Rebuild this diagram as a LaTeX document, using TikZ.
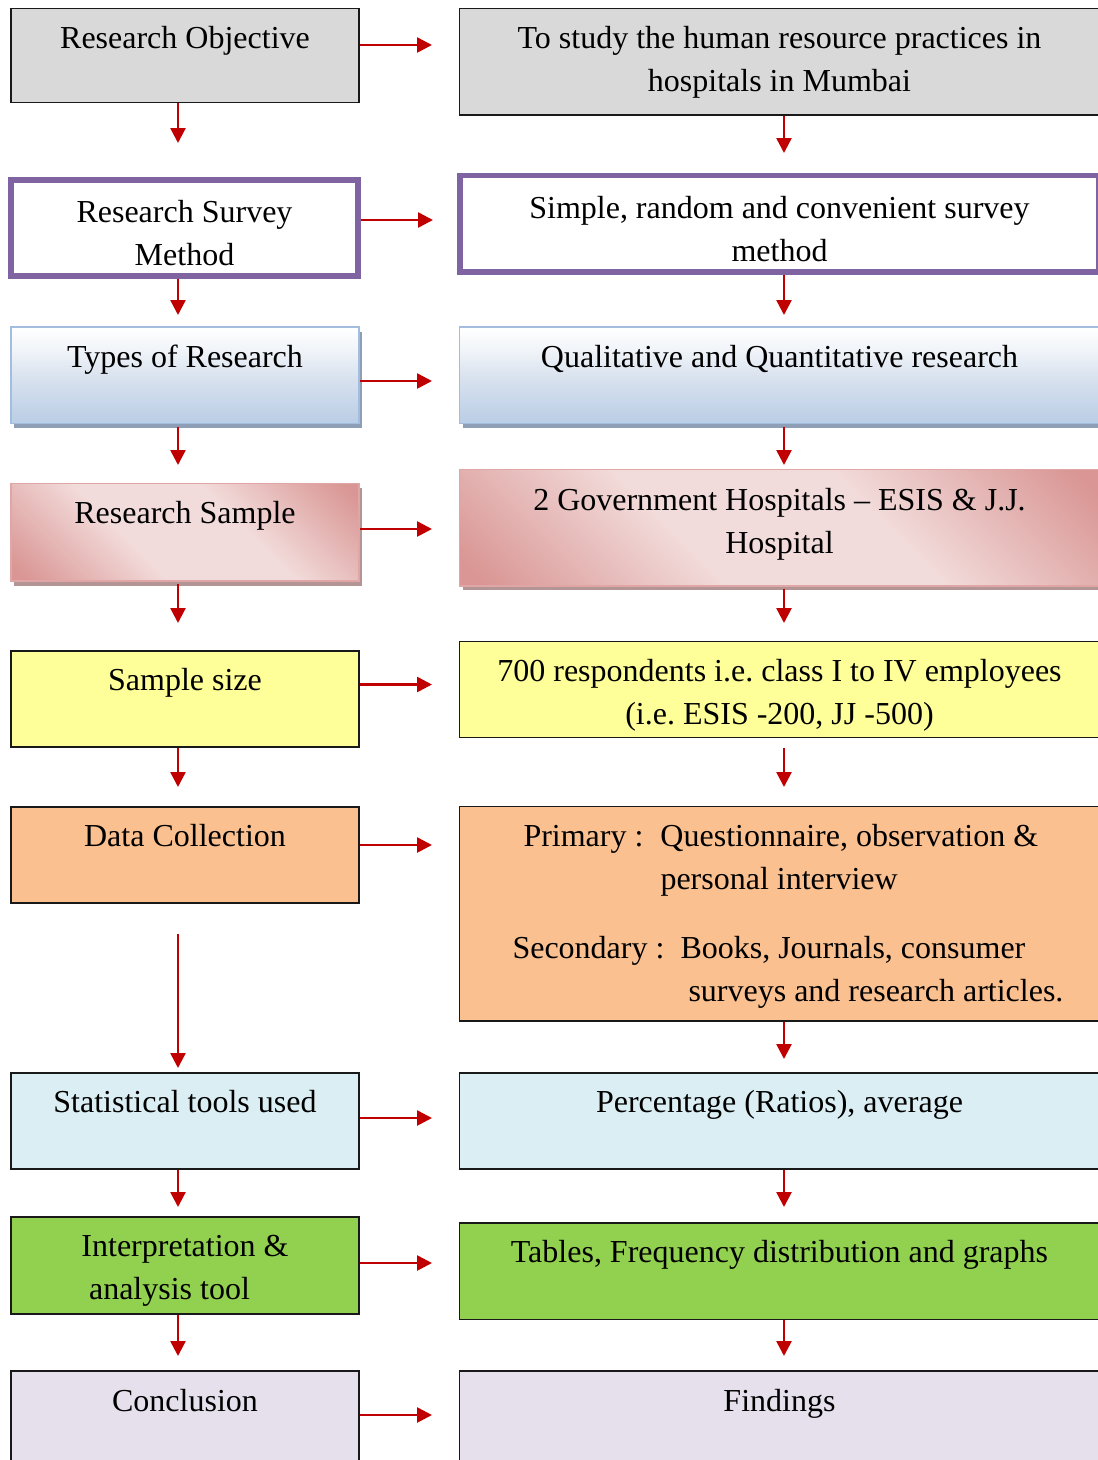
\documentclass[tikz,border=0pt]{standalone}
\usepackage{fontspec}
\setmainfont{Liberation Serif}
\usetikzlibrary{arrows.meta,shadows}

\definecolor{cGray}{HTML}{D9D9D9}
\definecolor{cPurple}{HTML}{8064A2}
\definecolor{cBlueLine}{HTML}{A3BDDF}
\definecolor{cBlueDark}{HTML}{B9CDE5}
\definecolor{cBlueMid}{HTML}{DAE3EF}
\definecolor{cBlueLight}{HTML}{EFF3F8}
\definecolor{cBlueShadow}{HTML}{8E9EB6}
\definecolor{cPinkDark}{HTML}{D99694}
\definecolor{cPinkLight}{HTML}{F2DCDB}
\definecolor{cPinkLine}{HTML}{E0A6A5}
\definecolor{cPinkShadow}{HTML}{B39595}
\definecolor{cYellow}{HTML}{FFFF99}
\definecolor{cOrange}{HTML}{FAC090}
\definecolor{cSky}{HTML}{DAEEF3}
\definecolor{cGreen}{HTML}{92D050}
\definecolor{cLavender}{HTML}{E5E0EC}
\definecolor{cArrow}{HTML}{C00000}

% vertical fade: white at the top, light blue at the bottom
\pgfdeclareverticalshading{bluefade}{100bp}{color(0bp)=(cBlueDark); color(25bp)=(cBlueDark);
  color(50bp)=(cBlueMid); color(62bp)=(cBlueLight); color(75bp)=(white); color(100bp)=(white)}
% diagonal band: dark corners, light stripe through the middle
\pgfdeclarehorizontalshading{pinkband}{100bp}{color(0bp)=(cPinkDark); color(17bp)=(cPinkDark);
  color(40bp)=(cPinkLight); color(60bp)=(cPinkLight); color(83bp)=(cPinkDark); color(100bp)=(cPinkDark)}

% box text: width, height, top padding, lines
\newcommand\boxtxt[4]{\parbox[c][#2][t]{#1}{\fontsize{32}{43}\selectfont\frenchspacing\vspace*{#3}\centering\strut#4\par}}
\newcommand\boxleft[4]{\parbox[c][#2][t]{#1}{\fontsize{32}{43}\selectfont\frenchspacing\vspace*{#3}\raggedright\strut#4\par}}

\tikzset{
  box/.style={inner sep=0pt, outer sep=0pt, draw=black!90, line width=1.8pt},
  graybox/.style={box, fill=cGray},
  purplebox/.style={box, draw=cPurple, line width=5.5pt, fill=white},
  bluebox/.style={box, draw=cBlueLine, line width=1.6pt, shade, shading=bluefade,
    drop shadow={shadow xshift=3pt, shadow yshift=-4.5pt, fill=cBlueShadow, opacity=1}},
  pinkbox/.style={box, draw=cPinkLine, line width=1.6pt, shade, shading=pinkband, shading angle=45,
    drop shadow={shadow xshift=3pt, shadow yshift=-4.5pt, fill=cPinkShadow, opacity=1}},
  yellowbox/.style={box, fill=cYellow},
  orangebox/.style={box, fill=cOrange},
  skybox/.style={box, fill=cSky},
  greenbox/.style={box, fill=cGreen},
  lavbox/.style={box, fill=cLavender},
  arr/.style={draw=cArrow, line width=2.6pt, -{Triangle[length=15pt,width=15pt]}, shorten <=0.9pt},
}

\begin{document}
\begin{tikzpicture}[x=1pt, y=-1pt]
\useasboundingbox (0,0) rectangle (1098,1460);
\clip (0,0) rectangle (1098,1460);

% left column
\node[graybox]   (L1) at (185,55.5)   {\boxtxt{348pt}{94pt}{10pt}{Research Objective}};
\node[purplebox] (L2) at (184.5,228)  {\boxtxt{347pt}{96pt}{12.5pt}{Research Survey\\Method}};
\node[bluebox]   (L3) at (185,375.25) {\boxtxt{348pt}{96.5pt}{10pt}{Types of Research}};
\node[pinkbox]   (L4) at (185,532.25) {\boxtxt{348pt}{97.5pt}{10pt}{Research Sample}};
\node[yellowbox] (L5) at (185,699)    {\boxtxt{348pt}{96.6pt}{9.5pt}{Sample size}};
\node[orangebox] (L6) at (185,855)    {\boxtxt{348pt}{96.6pt}{9.5pt}{Data Collection}};
\node[skybox]    (L7) at (185,1121)   {\boxtxt{348pt}{96pt}{9.5pt}{Statistical tools used}};
\node[greenbox]  (L8) at (185,1265.8) {\boxtxt{348pt}{97pt}{9.5pt}{Interpretation \&\\\hspace*{-31pt}analysis tool}};
\node[lavbox]    (L9) at (185,1419.5) {\boxtxt{348pt}{97pt}{10pt}{Conclusion}};

% right column
\node[graybox]   (R1) at (779.5,61.75)  {\boxtxt{640pt}{106.5pt}{10pt}{To study the human resource practices in\\hospitals in Mumbai}};
\node[purplebox] (R2) at (779.5,223.75) {\boxtxt{639pt}{96.5pt}{12.5pt}{Simple, random and convenient survey\\method}};
\node[bluebox]   (R3) at (779.5,375.25) {\boxtxt{640pt}{96.5pt}{10pt}{Qualitative and Quantitative research}};
\node[pinkbox]   (R4) at (779.5,527.5)  {\boxtxt{640pt}{116.4pt}{11pt}{2 Government Hospitals – ESIS \& J.J.\\Hospital}};
\node[yellowbox] (R5) at (779.5,689.5)  {\boxtxt{640pt}{96pt}{10pt}{700 respondents i.e. class I to IV employees\\(i.e. ESIS -200, JJ -500)}};
\node[orangebox] (R6) at (779.5,913.6)  {\boxleft{640pt}{214.2pt}{10pt}{%
  \hspace*{64pt}\makebox[137pt][l]{Primary :}Questionnaire, observation \&\\
  \hspace*{201pt}personal interview\\[26pt]
  \hspace*{53pt}\makebox[168pt][l]{Secondary :}Books, Journals, consumer\\
  \hspace*{229pt}surveys and research articles.}};
\node[skybox]    (R7) at (779.5,1121)   {\boxtxt{640pt}{96pt}{9.5pt}{Percentage (Ratios), average}};
\node[greenbox]  (R8) at (779.5,1271.1) {\boxtxt{640pt}{96.8pt}{10pt}{Tables, Frequency distribution and graphs}};
\node[lavbox]    (R9) at (779.5,1419.5) {\boxtxt{640pt}{97pt}{10pt}{Findings}};

% arrow tips towards the right column
\coordinate (h1) at (432,45);
\coordinate (h2) at (433,220);
\coordinate (h3) at (432,381);
\coordinate (h4) at (432,529);
\coordinate (h5) at (432,684.5);
\coordinate (h6) at (432,845);
\coordinate (h7) at (432,1118);
\coordinate (h8) at (432,1263);
\coordinate (h9) at (432,1415);
\draw[arr] (L1.east |- h1) -- (h1);
\draw[arr, shorten <=2.8pt] (L2.east |- h2) -- (h2);
\draw[arr] (L3.east |- h3) -- (h3);
\draw[arr] (L4.east |- h4) -- (h4);
\draw[arr] (L5.east |- h5) -- (h5);
\draw[arr] (L6.east |- h6) -- (h6);
\draw[arr] (L7.east |- h7) -- (h7);
\draw[arr] (L8.east |- h8) -- (h8);
\draw[arr] (L9.east |- h9) -- (h9);

% downward arrows, left column
\coordinate (v1) at (178,143);
\coordinate (v2) at (178,315);
\coordinate (v3) at (178,465);
\coordinate (v4) at (178,623);
\coordinate (v5) at (178,787);
\coordinate (v6s) at (178,933);
\coordinate (v6) at (178,1068);
\coordinate (v7) at (178,1207);
\coordinate (v8) at (178,1356);
\draw[arr] (L1.south -| v1) -- (v1);
\draw[arr, shorten <=2.8pt] (L2.south -| v2) -- (v2);
\draw[arr, shorten <=3pt] (L3.south -| v3) -- (v3);
\draw[arr, shorten <=3pt] (L4.south -| v4) -- (v4);
\draw[arr] (L5.south -| v5) -- (v5);
\draw[arr] (v6s) -- (v6);
\draw[arr] (L7.south -| v7) -- (v7);
\draw[arr] (L8.south -| v8) -- (v8);

% downward arrows, right column
\coordinate (w1) at (784,153);
\coordinate (w2) at (784,315);
\coordinate (w3) at (784,465);
\coordinate (w4) at (784,623);
\coordinate (w5s) at (784,747);
\coordinate (w5) at (784,787);
\coordinate (w6) at (784,1059);
\coordinate (w7) at (784,1207);
\coordinate (w8) at (784,1356);
\draw[arr] (R1.south -| w1) -- (w1);
\draw[arr, shorten <=2.8pt] (R2.south -| w2) -- (w2);
\draw[arr, shorten <=3pt] (R3.south -| w3) -- (w3);
\draw[arr, shorten <=3pt] (R4.south -| w4) -- (w4);
\draw[arr] (w5s) -- (w5);
\draw[arr] (R6.south -| w6) -- (w6);
\draw[arr] (R7.south -| w7) -- (w7);
\draw[arr] (R8.south -| w8) -- (w8);
\end{tikzpicture}
\end{document}
